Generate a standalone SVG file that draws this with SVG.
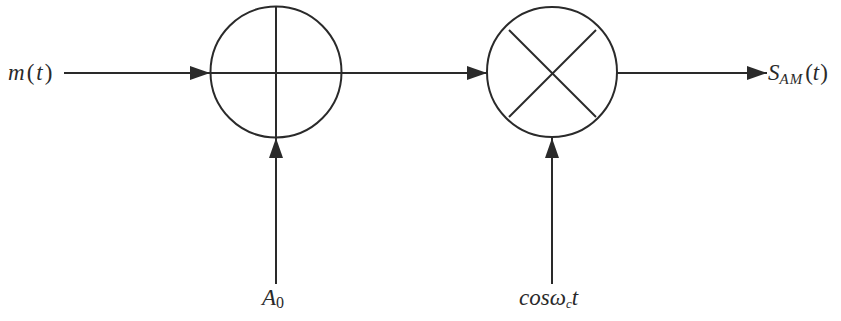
<svg xmlns="http://www.w3.org/2000/svg" width="841" height="321" viewBox="0 0 841 321">
<style>
.ln{stroke:#2a2a2a;stroke-width:2;fill:none}
.t{font-family:"Liberation Serif","DejaVu Serif",serif;font-style:italic;font-size:23px;fill:#2a2a2a}
.u{font-style:normal}
</style>
<defs>
<marker id="ah" viewBox="0 0 20 14" refX="20" refY="7" markerWidth="20" markerHeight="14" markerUnits="userSpaceOnUse" orient="auto">
<path d="M0,0 L20,7 L0,14 Z" fill="#2a2a2a"/>
</marker>
</defs>
<rect width="841" height="321" fill="#fff"/>
<g id="connectors">
<line class="ln" x1="64" y1="73" x2="210" y2="73" marker-end="url(#ah)"/>
<line class="ln" x1="341" y1="73" x2="487" y2="73" marker-end="url(#ah)"/>
<line class="ln" x1="617" y1="73" x2="767" y2="73" marker-end="url(#ah)"/>
<line class="ln" x1="276" y1="284" x2="276" y2="138" marker-end="url(#ah)"/>
<line class="ln" x1="552" y1="284" x2="552" y2="138" marker-end="url(#ah)"/>
</g>
<g id="adder">
<circle class="ln" cx="276" cy="72" r="65.5"/>
<line class="ln" x1="276" y1="6.5" x2="276" y2="137.5"/>
<line class="ln" x1="210.5" y1="73" x2="341.5" y2="73"/>
</g>
<g id="multiplier">
<circle class="ln" cx="552" cy="72" r="65"/>
<line class="ln" x1="509" y1="30" x2="596" y2="117"/>
<line class="ln" x1="596" y1="30" x2="509" y2="117"/>
</g>
<g id="labels">
<text class="t" x="8" y="80" letter-spacing="2">m<tspan class="u">(</tspan>t<tspan class="u">)</tspan></text>
<text class="t" x="768" y="80">S<tspan font-size="15" dy="4" letter-spacing="1">AM</tspan><tspan class="u" dy="-4" dx="2">(</tspan>t<tspan class="u" dx="1">)</tspan></text>
<text class="t" x="262" y="305">A<tspan class="u" font-size="16" dy="3">0</tspan></text>
<text class="t" x="519" y="305">cos<tspan>ω</tspan><tspan font-size="13" dy="3">c</tspan><tspan dy="-3">t</tspan></text>
</g>
</svg>
